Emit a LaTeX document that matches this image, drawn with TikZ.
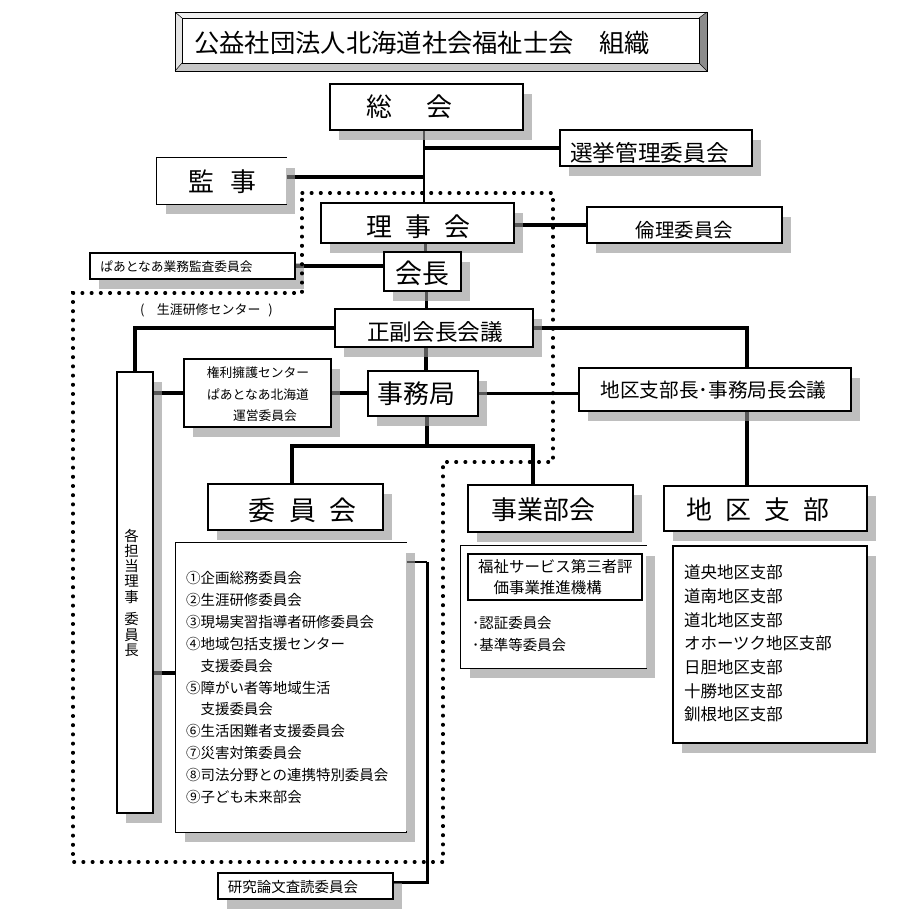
\documentclass[tikz,border=0pt]{standalone}
\usepackage{fontspec}
\setmainfont{Noto Sans CJK JP}
\usetikzlibrary{shadows,fit}
\pgfdeclarelayer{background}
\pgfsetlayers{background,main}
\begin{document}
\begin{tikzpicture}[x=1bp,y=-1bp,
  box/.style={draw, line width=1.1bp, fill=white, inner sep=0pt,
    drop shadow={shadow xshift=9bp, shadow yshift=-10bp, fill=black!42, opacity=0.6}},
  openbox/.style={box, draw=none},
  edge3/.style={line width=1.1bp},
  plainbox/.style={draw, line width=1.1bp, fill=white, inner sep=0pt},
  txt/.style={inner sep=0pt, anchor=center},
  conn/.style={line width=3.5bp},
  dotline/.style={line width=3.2bp, line cap=round, dash pattern=on 0.8bp off 8.4bp},
  ]
\begin{pgfonlayer}{background}
\fill[white] (0,0) rectangle (905,910);
\end{pgfonlayer}
\useasboundingbox (0,0) rectangle (905,910);

% title with bevel
\fill[black!6] (175,12) -- (707,12) -- (699,18) -- (182,18) -- cycle;
\fill[black!45] (707,12) -- (707,71) -- (699,63) -- (699,18) -- cycle;
\fill[black!22] (175,71) -- (707,71) -- (699,63) -- (182,63) -- cycle;
\fill[black!10] (175,12) -- (182,18) -- (182,63) -- (175,71) -- cycle;
\draw[line width=0.8bp] (175,12) rectangle (707,71);
\draw[line width=0.5bp] (175,12)--(182,18) (707,12)--(699,18) (707,71)--(699,63) (175,71)--(182,63);
\node[plainbox, line width=0.8bp, fit={(182,18) (699,63)}] (title) {};
\node[txt, font=\fontsize{25.4}{30}\selectfont] (titletext) at (422,42.5) {公益社団法人北海道社会福祉士会　組織};

% boxes
\node[box, fit={(330,84) (523,130)}] (soukai) {};
\node[txt, font=\fontsize{26}{30}\selectfont] (tsoukai) at (409.5,107) {総\hspace{1.3em}会};
\node[box, fit={(560,130) (752,166)}] (senkyo) {};
\node[txt, font=\fontsize{22.7}{26}\selectfont] (tsenkyo) at (649.5,152.5) {選挙管理委員会};
\node[openbox, fit={(157,158) (286,204)}] (kanji) {};
\draw[edge3] (kanji.north east) -- (kanji.north west) -- (kanji.south west) -- (kanji.south east);
\node[txt, font=\fontsize{26}{30}\selectfont] (tkanji) at (222.5,182) {監\hspace{0.65em}事};
\node[box, fit={(321,203) (514,243)}] (rijikai) {};
\node[txt, font=\fontsize{26}{30}\selectfont] (trijikai) at (418.5,227) {理\hspace{0.5em}事\hspace{0.5em}会};
\node[box, fit={(587,207) (782,243)}] (rinri) {};
\node[txt, font=\fontsize{19.5}{23}\selectfont] (trinri) at (684.5,230) {倫理委員会};
\node[box, fit={(384,252) (461,291)}] (kaichou) {};
\node[txt, font=\fontsize{27}{30}\selectfont] (tkaichou) at (422.5,273) {会長};
\node[box, fit={(90,253) (295,279)}] (partner) {};
\node[txt, font=\fontsize{12.75}{15}\selectfont] (tpartner) at (176.5,267) {ぱあとなあ業務監査委員会};
\node[txt, anchor=west, font=\fontsize{13}{15}\selectfont] (seminar) at (140,310) {(\hspace{0.95em}生涯研修センター\hspace{0.6em})};
\node[box, fit={(335,309) (533,347)}] (seifuku) {};
\node[txt, font=\fontsize{22.7}{26}\selectfont] (tseifuku) at (435,332) {正副会長会議};
\node[box, fit={(117,372) (153,813)}] (kakutan) {};
\node[txt, align=center, font=\fontsize{14.5}{15.3}\selectfont] (tkakutan) at (131.5,592.75) {各\\担\\当\\理\\事\\[7.5bp]委\\員\\長};
\node[box, fit={(184,359) (331,427)}] (kenri) {};
\node[txt, align=center, font=\fontsize{12.8}{21.5}\selectfont] (tkenri) at (258,394.2) {権利擁護センター\\ぱあとなあ北海道\\\hspace*{14bp}運営委員会};
\node[box, fit={(368,371) (478,416)}] (jimu) {};
\node[txt, font=\fontsize{26}{30}\selectfont] (tjimu) at (416.5,393.5) {事務局};
\node[box, fit={(579,368) (851,411)}] (chikukaigi) {};
\node[txt, font=\fontsize{19.7}{23}\selectfont] (tchikukaigi) at (713.5,390) {地区支部長･事務局長会議};
\node[box, fit={(208,484) (383,530)}] (iinkai) {};
\node[txt, font=\fontsize{27}{30}\selectfont] (tiinkai) at (302.5,510) {委\hspace{0.5em}員\hspace{0.5em}会};
\node[box, fit={(468,485) (633,532)}] (jigyo) {};
\node[txt, font=\fontsize{26}{30}\selectfont] (tjigyo) at (543.5,510) {事業部会};
\node[box, fit={(664,486) (867,531)}] (chiku) {};
\node[txt, font=\fontsize{26}{30}\selectfont] (tchiku) at (758,510) {地\hspace{0.5em}区\hspace{0.5em}支\hspace{0.5em}部};
\node[box, fit={(673,546) (867,743)}] (chikulist) {};
\node[txt, anchor=west, align=left, font=\fontsize{16.5}{23.8}\selectfont] (tchikulist) at (684,643.5)
  {道央地区支部\\道南地区支部\\道北地区支部\\オホーツク地区支部\\日胆地区支部\\十勝地区支部\\釧根地区支部};
\node[openbox, fit={(461,546) (646,668)}] (jigyolist) {};
\draw[edge3] (jigyolist.north east) -- (jigyolist.north west) -- (jigyolist.south west) -- (jigyolist.south east);
\node[plainbox, fit={(468,554) (642,600)}] (suishin) {};
\node[txt, anchor=west, align=left, font=\fontsize{15.5}{21}\selectfont] (tsuishin) at (478,577.5) {福祉サービス第三者評\\　価事業推進機構};
\node[txt, anchor=west, align=left, font=\fontsize{14.5}{22}\selectfont] (tjigyoitems) at (472,634) {･認証委員会\\･基準等委員会};
\node[openbox, fit={(176,543) (406,832)}] (iinlist) {};
\draw[edge3] (iinlist.north east) -- (iinlist.north west) -- (iinlist.south west) -- (iinlist.south east) -- ++(0,-2);
\node[txt, anchor=west, align=left, font=\fontsize{14.5}{21.9}\selectfont] (tiinlist) at (186,687.5)
  {①企画総務委員会\\②生涯研修委員会\\③現場実習指導者研修委員会\\④地域包括支援センター\\　支援委員会\\⑤障がい者等地域生活\\　支援委員会\\⑥生活困難者支援委員会\\⑦災害対策委員会\\⑧司法分野との連携特別委員会\\⑨子ども未来部会};
\node[box, fit={(218,873) (393,899)}] (kenkyu) {};
\node[txt, font=\fontsize{14.5}{17}\selectfont] (tkenkyu) at (293,887) {研究論文査読委員会};

% connectors
\coordinate (tx) at (424,0);
\coordinate (cxr) at (425,0);
\coordinate (tx2) at (426,0);
\coordinate (bus) at (427,446);
\coordinate (busL) at (292,446);
\coordinate (busR) at (533,446);
\coordinate (cx) at (747,0);
\coordinate (ly) at (0,673);
\coordinate (kt) at (427,562);
\coordinate (kb) at (427,882);
\begin{pgfonlayer}{background}
\draw[line width=2bp] (soukai.south -| tx) -- (rijikai.north -| tx);
\draw[line width=4bp] (senkyo.west) -- (senkyo.west -| tx);
\draw[conn] ([yshift=4bp]kanji.east) -- ([yshift=4bp]kanji.east -| tx);
\draw[line width=4bp] (rijikai.east |- rinri.west) -- (rinri.west);
\draw[line width=3bp] (rijikai.south -| cxr) -- (kaichou.north -| cxr);
\draw[conn] (partner.east) -- (partner.east -| kaichou.west);
\draw[line width=3bp] (kaichou.south -| tx2) -- (seifuku.north -| tx2);
\draw[conn] (seifuku.west) -| (kakutan.north);
\draw[conn] (kakutan.east |- kenri.west) -- (kenri.west);
\draw[conn] (kenri.east) -- (kenri.east -| jimu.west);
\draw[conn] (seifuku.south -| tx2) -- (jimu.north -| tx2);
\draw[conn] (jimu.east) -- (jimu.east -| chikukaigi.west);
\draw[conn] (seifuku.east) -| (cx |- chikukaigi.north);
\draw[conn] (chikukaigi.south -| cx) -- (chiku.north -| cx);
\draw[conn] (jimu.south -| bus) -- (bus);
\draw[conn] (busL |- iinkai.north) -- (busL) -- (busR) -- (busR |- jigyo.north);
\draw[conn] (kakutan.east |- ly) -- (iinlist.west |- ly);
\draw[line width=1.5bp] (iinlist.east |- kt) -- (kt);
\draw[line width=3bp] (kt) -- (kb) -- (kenkyu.east |- kb);
\end{pgfonlayer}

% dotted boundary
\draw[dotline] (302,193) -- (553,193) -- (553,462) -- (443,462) -- (443,862) -- (73,862) -- (73,293) -- (302,293) -- cycle;
\end{tikzpicture}
\end{document}
